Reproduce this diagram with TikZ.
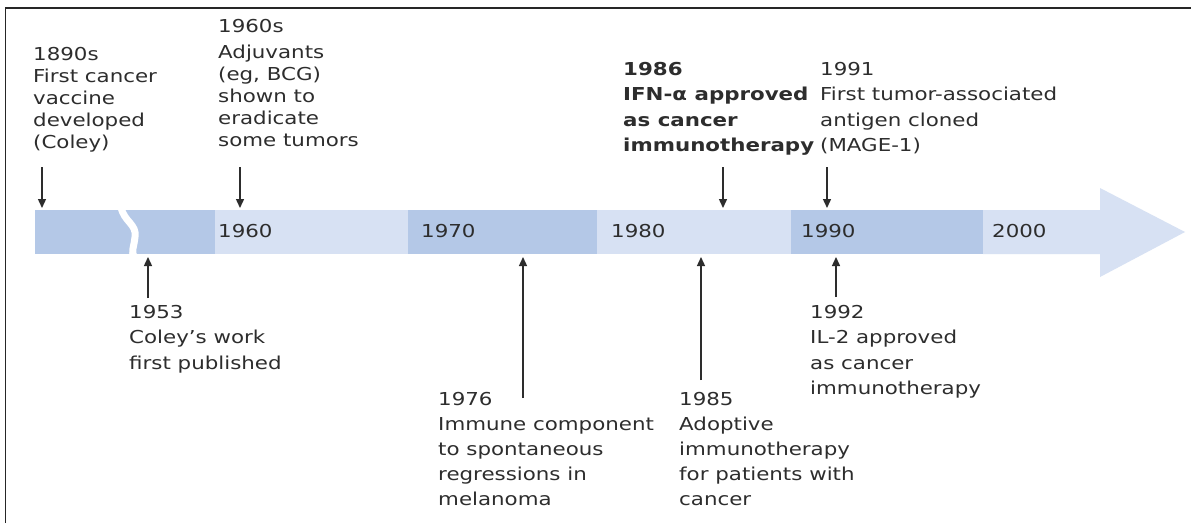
\documentclass[tikz,border=0pt]{standalone}
\usepackage{fontspec}
\setmainfont[FakeStretch=1.2]{DejaVu Sans}
\usetikzlibrary{arrows.meta}
\definecolor{barmid}{RGB}{180,200,231}
\definecolor{barlight}{RGB}{215,225,243}
\definecolor{txt}{RGB}{45,45,45}
\tikzset{
  lbl/.style={anchor=north west, inner sep=0pt, align=left, text=txt, font=\fontsize{17.8}{22}\selectfont},
  lbltwo/.style={lbl, font=\fontsize{17.8}{25.5}\selectfont},
  yr/.style={anchor=west, inner sep=0pt, text=txt, font=\fontsize{17.8}{22}\selectfont},
  evarrow/.style={-{Triangle[width=8pt,length=9pt]}, line width=1.4pt, draw=txt},
  seg/.style={draw=none}
}
\begin{document}
\begin{tikzpicture}[x=1pt,y=-1pt]
\useasboundingbox (0,0) rectangle (1191,523);
\fill[white] (0,0) rectangle (1191,523);
% frame
\draw[line width=1.6pt, black!85] (5.5,523) -- (5.5,8) -- (1191,8);
% bar
\fill[barmid]   (35,210) rectangle (215,254);
\fill[barlight] (215,210) rectangle (408,254);
\fill[barmid]   (408,210) rectangle (597,254);
\fill[barlight] (597,210) rectangle (791,254);
\fill[barmid]   (791,210) rectangle (983,254);
\fill[barlight] (983,210) -- (1100,210) -- (1100,188) -- (1185,232) -- (1100,277) -- (1100,254) -- (983,254) -- cycle;
% break
\draw[white, line width=7pt] (121,207) .. controls (124,222) and (137,224) .. (135,237) .. controls (134,247) and (131,251) .. (134,257);
% year labels on bar
\node[yr] (y1960) at (218,231) {1960};
\node[yr] (y1970) at (421,231) {1970};
\node[yr] (y1980) at (611,231) {1980};
\node[yr] (y1990) at (801,231) {1990};
\node[yr] (y2000) at (992,231) {2000};
% top labels
\node[lbl] (t1890) at (33,47) {1890s\\First cancer\\vaccine\\developed\\(Coley)};
\node[lbl] (t1960) at (218,19) {1960s\\[4pt]Adjuvants\\(eg, BCG)\\shown to\\eradicate\\some tumors};
\node[lbltwo, font=\bfseries\fontsize{17.8}{25.5}\selectfont] (t1986) at (623,62) {1986\\IFN-α approved\\as cancer\\immunotherapy};
\node[lbltwo] (t1991) at (820,62) {1991\\First tumor-associated\\antigen cloned\\(MAGE-1)};
% bottom labels
\node[lbltwo] (t1953) at (129,305) {1953\\Coley’s work\\first published};
\node[lbl, font=\fontsize{17.8}{25}\selectfont] (t1976) at (438,392) {1976\\Immune component\\to spontaneous\\regressions in\\melanoma};
\node[lbl, font=\fontsize{17.8}{25}\selectfont] (t1985) at (679,392) {1985\\Adoptive\\immunotherapy\\for patients with\\cancer};
\node[lbltwo] (t1992) at (810,305) {1992\\IL-2 approved\\as cancer\\immunotherapy};
% arrow end points
\coordinate (a1890s) at (42,167);   \coordinate (a1890e) at (42,208);
\coordinate (a1960s) at (240,167);  \coordinate (a1960e) at (240,208);
\coordinate (a1986s) at (723,167);  \coordinate (a1986e) at (723,208);
\coordinate (a1991s) at (827,167);  \coordinate (a1991e) at (827,208);
\coordinate (a1953s) at (148,298);  \coordinate (a1953e) at (148,257);
\coordinate (a1976s) at (523,398);  \coordinate (a1976e) at (523,257);
\coordinate (a1985s) at (701,380);  \coordinate (a1985e) at (701,257);
\coordinate (a1992s) at (836,297);  \coordinate (a1992e) at (836,257);
\draw[evarrow] (a1890s) -- (a1890e);
\draw[evarrow] (a1960s) -- (a1960e);
\draw[evarrow] (a1986s) -- (a1986e);
\draw[evarrow] (a1991s) -- (a1991e);
\draw[evarrow] (a1953s) -- (a1953e);
\draw[evarrow] (a1976s) -- (a1976e);
\draw[evarrow] (a1985s) -- (a1985e);
\draw[evarrow] (a1992s) -- (a1992e);
\end{tikzpicture}
\end{document}
